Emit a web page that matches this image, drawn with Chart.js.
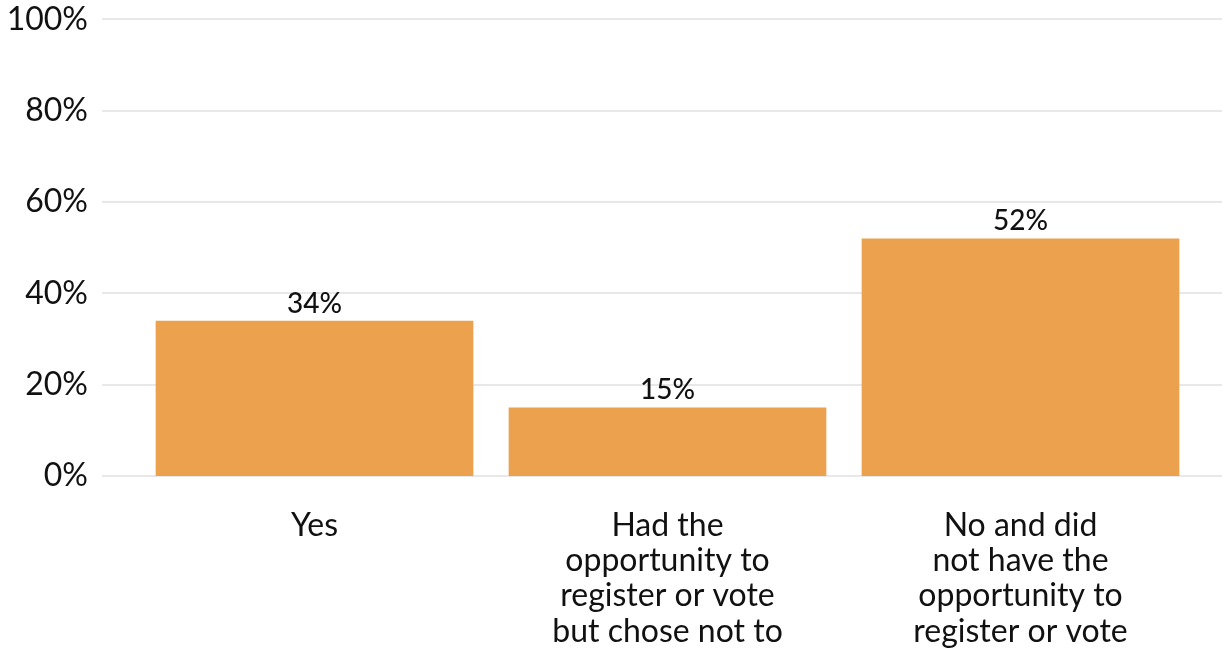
<!DOCTYPE html>
<html>
<head>
<meta charset="utf-8">
<script src="https://cdn.jsdelivr.net/npm/chart.js@4/dist/chart.umd.min.js"></script>
<style>
  html, body { margin: 0; padding: 0; background: #fff; }
  #wrap { width: 1222px; height: 651px; }
</style>
</head>
<body>
<div id="wrap"><canvas id="myChart" width="1222" height="651"></canvas></div>
<script>
const categories = [
  ['Yes'],
  ['Had the', 'opportunity to', 'register or vote', 'but chose not to'],
  ['No and did', 'not have the', 'opportunity to', 'register or vote'],
];
const values = [34, 15, 52];
const yTicks = [0, 20, 40, 60, 80, 100];

const barColor = '#eba14e';
const textColor = '#111111';
const gridColor = '#e8e8e8';

// gridlines run from the left edge past the bars, so draw them by hand
const wideGrid = {
  id: 'wideGrid',
  beforeDatasetsDraw(chart) {
    const { ctx, scales } = chart;
    ctx.save();
    ctx.strokeStyle = gridColor;
    ctx.lineWidth = 2;
    yTicks.forEach((t) => {
      const y = Math.round(scales.y.getPixelForValue(t));
      ctx.beginPath();
      ctx.moveTo(102, y);
      ctx.lineTo(1222, y);
      ctx.stroke();
    });
    ctx.restore();
  },
};

const barLabels = {
  id: 'barLabels',
  afterDatasetsDraw(chart) {
    const { ctx } = chart;
    const meta = chart.getDatasetMeta(0);
    ctx.save();
    ctx.font = '500 28px Lato';
    ctx.fillStyle = textColor;
    ctx.textAlign = 'center';
    ctx.textBaseline = 'alphabetic';
    meta.data.forEach((bar, i) => {
      ctx.fillText(`${values[i]}%`, bar.x, bar.y - 8);
    });
    ctx.restore();
  },
};

const ctx = document.getElementById('myChart').getContext('2d');
const myChart = new Chart(ctx, {
  type: 'bar',
  data: {
    labels: categories,
    datasets: [{
      data: values,
      backgroundColor: barColor,
      borderWidth: 0,
      barPercentage: 0.9,
      categoryPercentage: 1,
    }],
  },
  options: {
    responsive: false,
    animation: false,
    layout: { padding: { top: 1, right: 25, bottom: 0, left: 0 } },
    plugins: {
      legend: { display: false },
      tooltip: { enabled: false },
    },
    scales: {
      x: {
        afterFit(scale) { scale.height = 175; },
        grid: { display: false },
        border: { display: false },
        ticks: {
          color: textColor,
          font: { family: 'Lato', size: 32, lineHeight: 1.1 },
          padding: 24,
          maxRotation: 0,
          autoSkip: false,
        },
      },
      y: {
        min: 0,
        max: 100,
        afterFit(scale) { scale.width = 138; },
        afterBuildTicks(scale) { scale.ticks = yTicks.map((v) => ({ value: v })); },
        // tickLength keeps the labels off the bars without adding top padding
        grid: { display: false, tickLength: 50 },
        border: { display: false },
        ticks: {
          color: textColor,
          font: { family: 'Lato', size: 32 },
          padding: 0,
          callback: (v) => `${v}%`,
        },
      },
    },
  },
  plugins: [wideGrid, barLabels],
});
</script>
</body>
</html>
